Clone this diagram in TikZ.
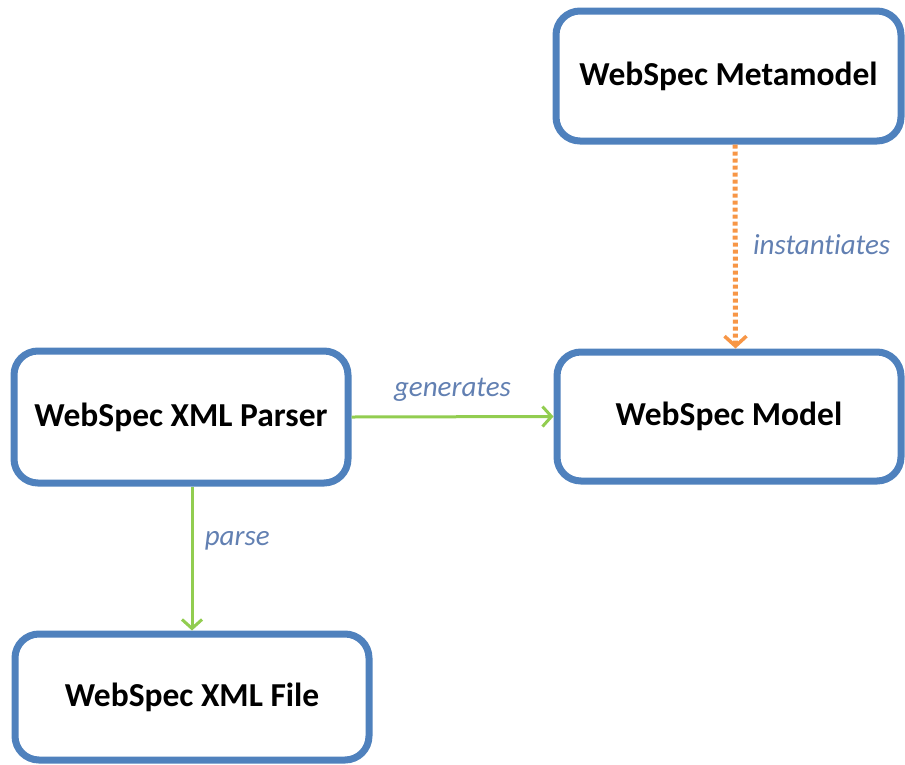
\documentclass[tikz,border=0pt]{standalone}
\usepackage{fontspec}
\setmainfont{Carlito}[Ligatures={NoCommon}]
\usetikzlibrary{arrows.meta}
\definecolor{boxblue}{RGB}{79,129,189}
\definecolor{flowgreen}{RGB}{146,205,80}
\definecolor{instorange}{RGB}{247,150,70}
\definecolor{labelblue}{RGB}{98,128,178}
\tikzset{
  unitbox/.style={draw=boxblue, line width=7pt, rounded corners=24pt, fill=white,
    font=\fontsize{33.5}{38}\selectfont\bfseries, text=black, align=center},
  flowarrow/.style={draw=flowgreen, line width=3pt,
    -{Straight Barb[length=9pt, width=20pt, line width=3pt]}},
  instarrow/.style={draw=instorange, line width=5pt, dash pattern=on 4pt off 3pt,
    -{Straight Barb[length=10pt, width=22pt, line width=3.5pt]}},
  edgelabel/.style={text=labelblue, font=\fontsize{29}{33}\selectfont\itshape}
}
\begin{document}
\begin{tikzpicture}[x=1pt, y=-1pt]
  \useasboundingbox (0,0) rectangle (905,764);

  \node[unitbox, minimum width=345pt, minimum height=130pt] (meta) at (728.5,76) {WebSpec Metamodel};
  \node[unitbox, minimum width=344pt, minimum height=129pt] (model) at (729,416.5) {WebSpec Model};
  \node[unitbox, minimum width=334pt, minimum height=132pt] (parser) at (181,417) {WebSpec XML Parser};
  \node[unitbox, minimum width=354pt, minimum height=126pt] (file) at (192,697) {WebSpec XML File};

  \draw[instarrow] ([xshift=6.5pt]meta.south) -- ([xshift=6.5pt]model.north)
    node[edgelabel, pos=0.49, right=12pt] (lblinst) {instantiates};
  \draw[flowarrow] (parser.east) -- (model.west)
    node[edgelabel, midway, above=10pt] (lblgen) {generates};
  \draw[flowarrow] (parser.south -| file.north) -- (file.north)
    node[edgelabel, pos=0.38, right=8pt] (lblparse) {parse};
\end{tikzpicture}
\end{document}
